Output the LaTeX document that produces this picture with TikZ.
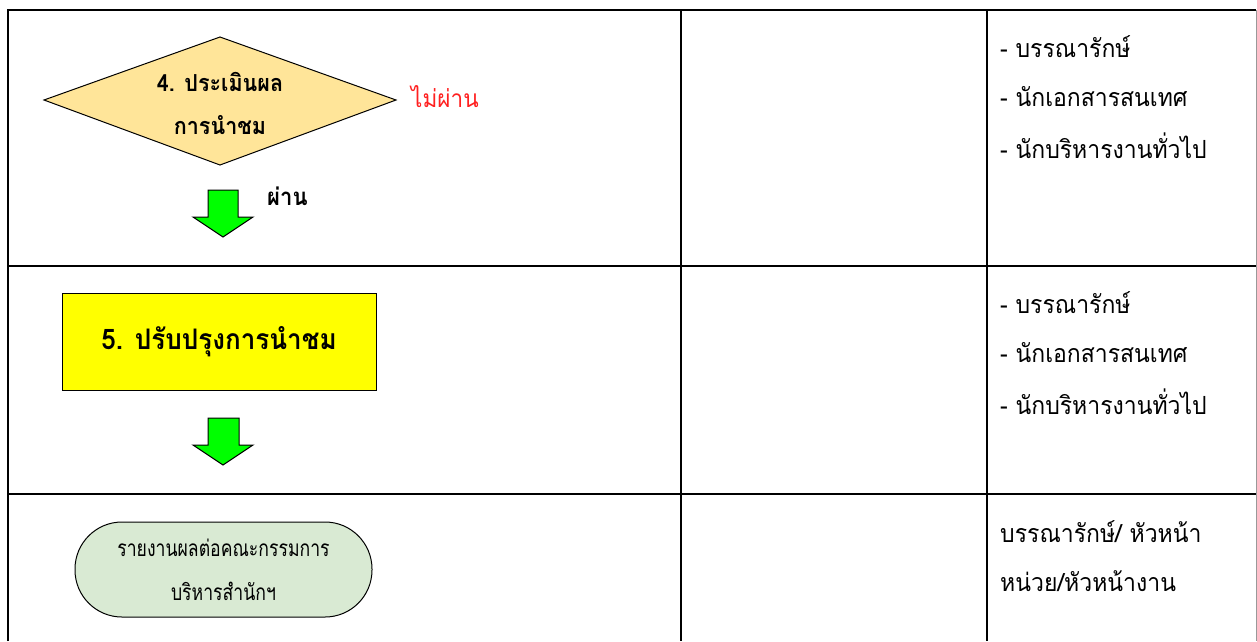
\documentclass[tikz,border=0pt]{standalone}
\usepackage{fontspec}
\newfontfamily\thai[Script=Thai,FakeStretch=0.92]{Loma}
\newfontfamily\thaicond[Script=Thai,FakeStretch=0.78]{Loma}
\usetikzlibrary{shapes.geometric}
\definecolor{diafill}{HTML}{FFE599}
\definecolor{boxyellow}{HTML}{FFFF00}
\definecolor{arrowgreen}{HTML}{00FF00}
\definecolor{pillgreen}{HTML}{D9EAD3}
\definecolor{notred}{HTML}{FF2020}
\tikzset{
  grid/.style={line width=1.6pt, draw=black},
  role/.style={anchor=west, inner sep=0pt, font=\thai\fontsize{25}{28}\selectfont},
  bigarrow/.style={draw=black, line width=1pt, fill=arrowgreen},
}
\begin{document}
\begin{tikzpicture}[x=1pt,y=-1pt]
\useasboundingbox (0,0) rectangle (1257,641);
% table
\draw[grid] (8,641) -- (8,10) -- (1256,10);
\draw[grid] (8,266) -- (1256,266);
\draw[grid] (8,494) -- (1256,494);
\draw[grid] (681,10) -- (681,641);
\draw[grid] (987,10) -- (987,641);
\draw[line width=1pt, draw=black!40] (1256,10) -- (1256,641);

% diamond
\path[draw=black, line width=1pt, fill=diafill]
  (44,100) -- (220,37) -- (396,100) -- (220,165) -- cycle;
\node[inner sep=0pt, align=center, font=\thai\bfseries\fontsize{23.4}{43}\selectfont] (d4) at (220,103) {4. ประเมินผล\\การนำชม};
\node[anchor=west, inner sep=0pt, text=notred, font=\thai\fontsize{24.5}{28}\selectfont] (fail) at (411,97) {ไม่ผ่าน};

% arrow 1
\path[bigarrow] (208,190) -- (238,190) -- (238,217) -- (253,217) -- (223,237) -- (193,217) -- (208,217) -- cycle;
\node[anchor=west, inner sep=0pt, font=\thai\bfseries\fontsize{24}{28}\selectfont] (pass) at (267,196) {ผ่าน};

% box 5
\node[draw=black, line width=1pt, fill=boxyellow, minimum width=314pt, minimum height=97pt,
  font=\thai\bfseries\fontsize{28.3}{32}\selectfont] (b5) at (219,341.5) {5. ปรับปรุงการนำชม};

% arrow 2
\path[bigarrow] (208,418) -- (239,418) -- (239,445) -- (253,445) -- (223,465) -- (193,445) -- (208,445) -- cycle;

% pill
\node[draw=black, line width=1pt, fill=pillgreen, rounded corners=47pt, minimum width=297pt, minimum height=95pt,
  align=center, font=\thaicond\fontsize{22.6}{44}\selectfont] (rep) at (223.5,569.5) {รายงานผลต่อคณะกรรมการ\\บริหารสำนักฯ};

% right column
\node[role] (r1a) at (1000,47) {- บรรณารักษ์};
\node[role] (r1b) at (1000,97) {- นักเอกสารสนเทศ};
\node[role] (r1c) at (1000,146) {- นักบริหารงานทั่วไป};
\node[role] (r2a) at (1000,303) {- บรรณารักษ์};
\node[role] (r2b) at (1000,353) {- นักเอกสารสนเทศ};
\node[role] (r2c) at (1000,402) {- นักบริหารงานทั่วไป};
\node[role] (r3a) at (1000,532) {บรรณารักษ์/ หัวหน้า};
\node[role] (r3b) at (1000,581) {หน่วย/หัวหน้างาน};
\end{tikzpicture}
\end{document}
